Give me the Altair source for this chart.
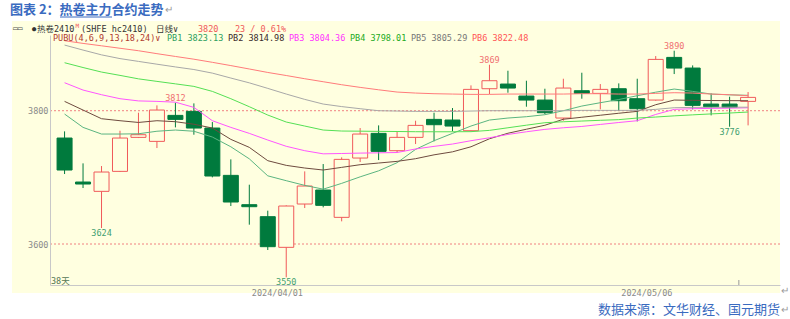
import altair as alt
import pandas as pd

# ---------------- data ----------------
dates = ["2024/03/18", "2024/03/19", "2024/03/20", "2024/03/21", "2024/03/22",
         "2024/03/25", "2024/03/26", "2024/03/27", "2024/03/28", "2024/03/29",
         "2024/04/01", "2024/04/02", "2024/04/03", "2024/04/08", "2024/04/09",
         "2024/04/10", "2024/04/11", "2024/04/12", "2024/04/15", "2024/04/16",
         "2024/04/17", "2024/04/18", "2024/04/19", "2024/04/22", "2024/04/23",
         "2024/04/24", "2024/04/25", "2024/04/26", "2024/04/29", "2024/04/30",
         "2024/05/06", "2024/05/07", "2024/05/08", "2024/05/09", "2024/05/10",
         "2024/05/13", "2024/05/14", "2024/05/15"]
opens = [3759, 3693, 3679, 3709, 3760, 3754, 3793, 3799, 3774, 3703,
         3659, 3641, 3595, 3660, 3681, 3640, 3729, 3766, 3740, 3760,
         3787, 3786, 3770, 3833, 3840, 3822, 3816, 3789, 3830, 3826,
         3833, 3818, 3816, 3880, 3864, 3810, 3810, 3814]
highs = [3769, 3721, 3717, 3770, 3797, 3808, 3812, 3811, 3783, 3727,
         3689, 3650, 3658, 3709, 3720, 3730, 3774, 3778, 3769, 3785,
         3797, 3804, 3838, 3869, 3860, 3845, 3833, 3848, 3857, 3840,
         3841, 3848, 3882, 3890, 3868, 3826, 3821, 3828]
lows = [3705, 3684, 3624, 3708, 3759, 3744, 3775, 3764, 3700, 3657,
        3629, 3591, 3550, 3654, 3655, 3634, 3723, 3726, 3737, 3750,
        3754, 3769, 3769, 3825, 3827, 3806, 3795, 3785, 3818, 3802,
        3800, 3784, 3815, 3855, 3802, 3793, 3776, 3778]
closes = [3711, 3690, 3708, 3759, 3764, 3801, 3787, 3774, 3702, 3663,
          3656, 3596, 3657, 3687, 3658, 3727, 3765, 3739, 3760, 3778,
          3779, 3777, 3832, 3845, 3834, 3816, 3797, 3834, 3826, 3832,
          3815, 3803, 3877, 3864, 3808, 3806, 3805, 3820]

pb_names = ["PB1", "PB2", "PB3", "PB4", "PB5", "PB6"]
pb1 = [3795, 3775, 3765, 3765, 3765.4, 3769.2, 3771, 3769.2, 3760.5, 3745.9,
       3727.8, 3702.3, 3695, 3688, 3682.3, 3691, 3700.8, 3709.8, 3722, 3742,
       3755, 3766, 3777, 3786, 3789, 3791, 3794, 3800, 3807, 3812,
       3816.8, 3822.5, 3827.8, 3832.5, 3829, 3825, 3823.8, 3823.1]
pb2 = [3814, 3801, 3788, 3785, 3782.4, 3785, 3783.5, 3779.7, 3774, 3757,
       3745, 3725, 3718, 3714, 3711, 3715, 3719, 3721.5, 3724, 3728,
       3733.8, 3738.3, 3745.9, 3757.9, 3766.2, 3772.2, 3778.2, 3787.2, 3790.2, 3793.2,
       3796.2, 3799, 3809, 3816, 3815.6, 3815.3, 3815.1, 3815]
pb3 = [3842, 3831, 3824, 3818, 3814.7, 3814, 3812.8, 3805, 3785, 3775,
       3766, 3756, 3746.6, 3740, 3735.3, 3735.8, 3736.4, 3736.8, 3737.3, 3742.6,
       3746.5, 3750, 3755, 3759.4, 3764.4, 3768.4, 3772, 3774.4, 3776.4, 3779.4,
       3782.3, 3785, 3794.4, 3802, 3803, 3803.5, 3803.8, 3804.4]
pb4 = [3872, 3864.8, 3858, 3853, 3847.8, 3844, 3840.3, 3836.5, 3829, 3818,
       3806, 3793.5, 3783, 3777, 3771, 3769.5, 3769.3, 3769, 3768.8, 3768.5,
       3768.4, 3768.4, 3768.6, 3770.5, 3774.4, 3778.3, 3782, 3783.4, 3784.5, 3785.6,
       3786.6, 3789, 3790.5, 3792.3, 3793.8, 3795.2, 3796.5, 3798]
pb5 = [3898.5, 3891, 3883.8, 3878.2, 3874, 3869.8, 3865.7, 3861.8, 3856.4, 3849,
       3841.8, 3833.5, 3825, 3817, 3810, 3806.2, 3803, 3800, 3799.5, 3799,
       3799, 3799, 3799.5, 3800, 3800, 3800, 3800, 3800, 3800.5, 3800.5,
       3800.5, 3800.5, 3802, 3804.5, 3805, 3805, 3805.3, 3805.3]
pb6 = [3905, 3901, 3897.4, 3893.7, 3890, 3885.6, 3881.4, 3877.3, 3872.6, 3867.7,
       3862.6, 3857.4, 3852.8, 3848, 3843.5, 3839, 3835, 3831.4, 3828, 3826.5,
       3825.5, 3825, 3824.5, 3824.5, 3825, 3825, 3825, 3825, 3825.5, 3825.5,
       3825, 3825, 3826, 3827, 3826.5, 3825, 3824, 3822.5]
pb_last = ["3823.13", "3814.98", "3804.36", "3798.01", "3805.29", "3822.48"]

y_ticks = [3600, 3800]
date_tick_idx = [11, 31]
hi_idx = [7, 24, 34]
lo_idx = [3, 13, 37]

title_text = "图表 2：热卷主力合约走势"
source_text = "数据来源：文华财经、国元期货"
symbol_text = "热卷2410"
exchange_text = "(SHFE hc2410)"
period_text = "日线∨"
last_text = "3820"
change_text = "23 / 0.61%"
indicator_text = "PUBU(4,6,9,13,18,24)"
days_text = "38天"

# ---------------- styles ----------------
BG = "#FFFFE0"
RED = "#F05A5A"
GREEN = "#007A3D"
BLUE = "#3A6BC0"
MONO = "DejaVu Sans Mono, Noto Sans CJK SC"
CJK = "Noto Sans CJK SC"
line_colors = ["#5BB581", "#6E4B3F", "#FF55FF", "#55E055", "#A8A8A8", "#FF7B7B"]
text_colors = ["#2E9E5E", "#3A2A2A", "#FF33FF", "#22AA22", "#777777", "#FF5555"]

n = len(opens)
idx = list(range(1, n + 1))
candles = pd.DataFrame({"i": idx, "date": dates, "open": opens, "high": highs,
                        "low": lows, "close": closes})
candles["dir"] = ["up" if c >= o else "down" for o, c in zip(opens, closes)]

pb_series = [pb1, pb2, pb3, pb4, pb5, pb6]
ma = pd.DataFrame([{"i": i + 1, "name": nm, "value": v}
                   for nm, s in zip(pb_names, pb_series) for i, v in enumerate(s)])

hi_df = pd.DataFrame({"i": hi_idx, "v": [highs[k - 1] for k in hi_idx]})
hi_df["t"] = hi_df["v"].astype(int).astype(str)
lo_df = pd.DataFrame({"i": lo_idx, "v": [lows[k - 1] for k in lo_idx]})
lo_df["t"] = lo_df["v"].astype(int).astype(str)

xs = alt.Scale(domain=[0.482, 39.457], nice=False, zero=False)
ys = alt.Scale(domain=[3538.5, 3913.6], nice=False, zero=False)

label_expr = " : ".join(
    f"datum.value == {k} ? '{dates[k - 1]}'" for k in date_tick_idx) + " : ''"
x_axis = alt.Axis(values=date_tick_idx, labelExpr=label_expr, ticks=False, grid=False,
                  domainColor="#C8C8C8", labelColor="#8A8A8A", labelFont=MONO,
                  labelFontSize=8.5, labelAlign="left", labelBaseline="top",
                  labelPadding=3, labelOffset=2, title=None, zindex=1)
y_axis = alt.Axis(values=y_ticks, format="d", ticks=False, grid=False, domainColor="#C8C8C8",
                  labelColor="#8A8A8A", labelFont=MONO, labelFontSize=8.5,
                  labelPadding=2, title=None, zindex=1)


def X(field):
    return alt.X(field, scale=xs, axis=x_axis)


def Y(field):
    return alt.Y(field, scale=ys, axis=y_axis)


def txt(s, x, y, color, size=8.5, font=MONO, align="left", weight="normal"):
    return alt.Chart(pd.DataFrame({"t": [s]})).mark_text(
        align=align, baseline="middle", color=color, fontSize=size, font=font,
        fontWeight=weight).encode(x=alt.value(x), y=alt.value(y), text="t:N")


panel = alt.Chart(pd.DataFrame({"a": [0]})).mark_rect(color=BG).encode(
    x=alt.value(-38), x2=alt.value(730), y=alt.value(-14), y2=alt.value(258))

grid = alt.Chart(pd.DataFrame({"v": y_ticks})).mark_rule(
    color="#F08080", strokeDash=[2, 2], strokeWidth=1).encode(
    y=Y("v:Q"), x=alt.value(0), x2=alt.value(730))

base = alt.Chart(candles)
wick_up = base.transform_filter("datum.dir == 'up'").mark_rule(color=RED, strokeWidth=1).encode(
    x=X("i:Q"), y=Y("low:Q"), y2="high:Q")
wick_dn = base.transform_filter("datum.dir == 'down'").mark_rule(color=GREEN, strokeWidth=1).encode(
    x=X("i:Q"), y=Y("low:Q"), y2="high:Q")
body_up = base.transform_filter("datum.dir == 'up'").mark_bar(
    size=15, fill=BG, stroke=RED, strokeWidth=1).encode(
    x=X("i:Q"), y=Y("open:Q"), y2="close:Q")
body_dn = base.transform_filter("datum.dir == 'down'").mark_bar(
    size=15, fill=GREEN, stroke=GREEN, strokeWidth=1).encode(
    x=X("i:Q"), y=Y("open:Q"), y2="close:Q")

lines = alt.Chart(ma).mark_line(strokeWidth=1).encode(
    x=X("i:Q"), y=Y("value:Q"),
    color=alt.Color("name:N", scale=alt.Scale(domain=pb_names, range=line_colors), legend=None))

hi_lbl = alt.Chart(hi_df).mark_text(color="#F07070", font=MONO, fontSize=8.5,
                                    baseline="alphabetic", dy=-2).encode(
    x=X("i:Q"), y=Y("v:Q"), text="t:N")
lo_lbl = alt.Chart(lo_df).mark_text(color="#3FA070", font=MONO, fontSize=8.5,
                                    baseline="top", dy=1).encode(
    x=X("i:Q"), y=Y("v:Q"), text="t:N")

marker = alt.Chart(pd.DataFrame({"a": [0]})).mark_rule(color="#999999").encode(
    x=alt.datum(37.5, scale=xs), y=alt.value(245), y2=alt.value(250))

layers = [panel, grid, wick_up, wick_dn, body_up, body_dn, lines, hi_lbl, lo_lbl, marker]

# title and footer
layers.append(txt(title_text, -40, -25, BLUE, 13, CJK, weight="bold"))
layers.append(alt.Chart(pd.DataFrame({"a": [0]})).mark_rule(color=BLUE, strokeWidth=1).encode(
    x=alt.value(10), x2=alt.value(62), y=alt.value(-18)))
layers.append(txt("↵", 115, -25, "#9A9A9A", 10, CJK))
layers.append(txt(source_text, 730, 275, BLUE, 13, CJK, align="right"))
layers.append(txt("↵", 731, 275, "#9A9A9A", 10, CJK))
layers.append(txt("↵", 731, 256, "#9A9A9A", 10, CJK))

# header row 1
layers.append(txt("▭▭", -37, -6.5, "#555555", 8))
layers.append(txt("●", -18, -6.5, "#333333", 7))
layers.append(txt(symbol_text, -13, -6.5, "#333333"))
layers.append(txt("M", 25.5, -9.5, RED, 6))
layers.append(txt(exchange_text, 31, -6.5, "#333333"))
layers.append(txt(period_text, 106, -6.5, "#333333"))
layers.append(txt(last_text, 148, -6.5, RED))
layers.append(txt(change_text, 185, -6.5, RED))

# header row 2
layers.append(txt(indicator_text + "∨", 3, 2.7, "#B03A2E"))
pb_x = [117, 178, 239, 300, 361, 422]
for nm, val, col, px in zip(pb_names, pb_last, text_colors, pb_x):
    layers.append(txt(f"{nm} {val}", px, 2.7, col))

layers.append(txt(days_text, 1, 245.7, "#557755"))

chart = alt.layer(*layers).properties(
    width=730, height=250,
    padding={"left": 50, "top": 35, "right": 10, "bottom": 34},
    autosize=alt.AutoSizeParams(type="none"),
    background="white",
).configure_view(stroke=None)

chart.save("out.html", embed_options={"renderer": "svg", "actions": False})
